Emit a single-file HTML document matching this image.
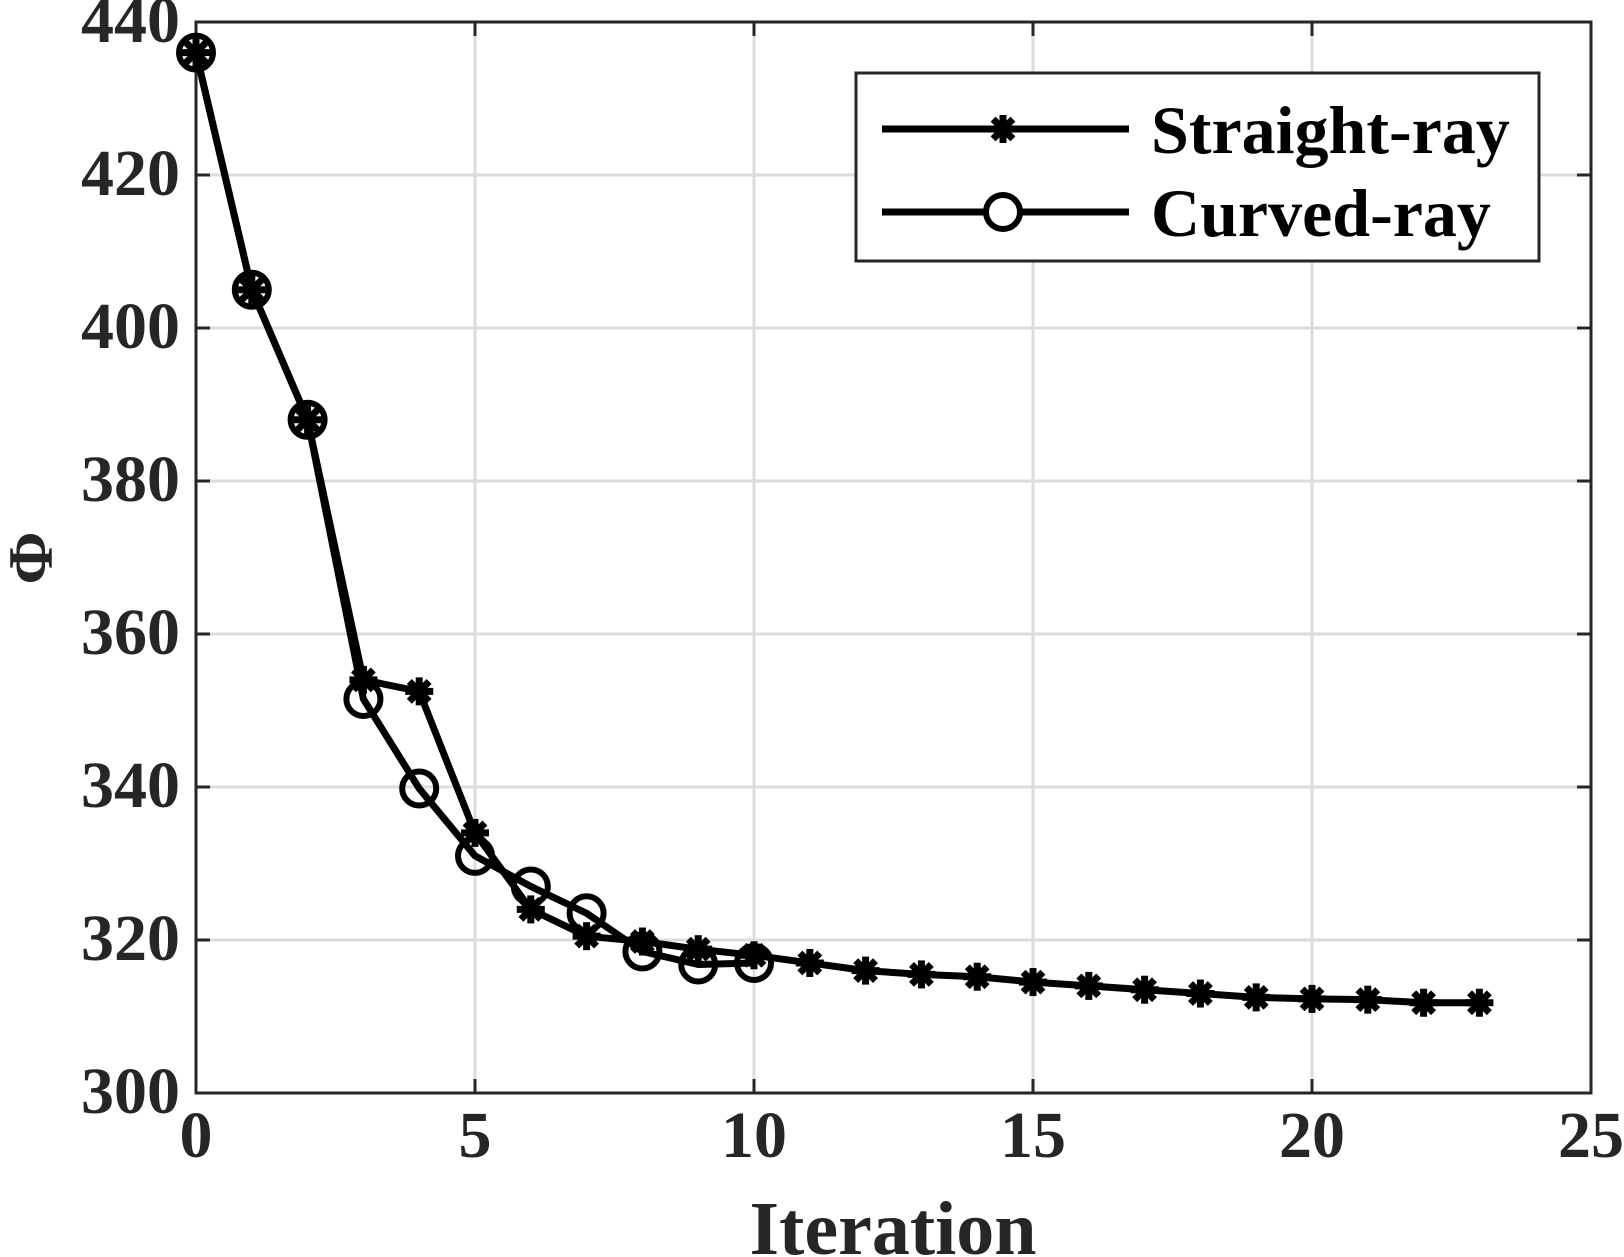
<!DOCTYPE html>
<html><head><meta charset="utf-8"><style>
html,body{margin:0;padding:0;background:#fff;}
svg{display:block;font-family:"Liberation Serif",serif;font-weight:bold;}
</style></head><body>
<svg id="chart" width="1624" height="1257" viewBox="0 0 1624 1257" xmlns="http://www.w3.org/2000/svg">
<g id="grid"></g>
<g id="axes"></g>
<g id="series"></g>
<g id="legend">
<rect x="856" y="73" width="683" height="188" fill="#fff" stroke="#262626" stroke-width="3"/>
<g>
<line x1="882" y1="129" x2="1129" y2="129" stroke="#000" stroke-width="7"/>
<g id="legStar"></g>
<text x="1151" y="153" font-size="68" fill="#000">Straight-ray</text>
</g>
<g>
<line x1="882" y1="212" x2="1129" y2="212" stroke="#000" stroke-width="7"/>
<circle cx="1003" cy="212" r="17" fill="#fff" stroke="#000" stroke-width="6"/>
<text x="1151" y="236" font-size="68" fill="#000">Curved-ray</text>
</g>
</g>
<text x="893" y="1254" font-size="76" fill="#262626" text-anchor="middle">Iteration</text>
<text transform="translate(52,558) rotate(-90)" font-size="64" fill="#262626" text-anchor="middle">Φ</text>
</svg>
<script>
const xTicks=[0,5,10,15,20,25];
const yTicks=[300,320,340,360,380,400,420,440];
const straightIter=[0,1,2,3,4,5,6,7,8,9,10,11,12,13,14,15,16,17,18,19,20,21,22,23];
const straightVals=[436,405,388,354,352.5,334,324,320.5,319.8,318.8,318,317,316,315.5,315.2,314.5,314,313.5,313,312.5,312.3,312.2,311.8,311.8];
const curvedIter=[0,1,2,3,4,5,6,7,8,9,10];
const curvedVals=[436,405,388,351.5,339.8,331,327,323.5,318.5,316.8,317];
const L=196,R=1591,T=22,B=1093;
const xs=v=>L+(v-0)/25*(R-L);
const ys=v=>B-(v-300)/140*(B-T);
const NS="http://www.w3.org/2000/svg";
function mk(tag,attrs,parent){const e=document.createElementNS(NS,tag);for(const k in attrs)e.setAttribute(k,attrs[k]);parent.appendChild(e);return e;}
const grid=document.getElementById('grid'),axes=document.getElementById('axes'),series=document.getElementById('series');
xTicks.forEach(t=>{
 if(t>0&&t<25){const g=mk('line',{x1:xs(t),x2:xs(t),y1:T,y2:B,stroke:'#dcdcdc','stroke-width':3},grid);
 
 }
 mk('line',{x1:xs(t),x2:xs(t),y1:B,y2:B-14,stroke:'#262626','stroke-width':3},axes);
 mk('line',{x1:xs(t),x2:xs(t),y1:T,y2:T+14,stroke:'#262626','stroke-width':3},axes);
 const tx=mk('text',{x:xs(t),y:B+64,'font-size':66,fill:'#262626','text-anchor':'middle'},axes);
 tx.textContent=t;
 
 
});
yTicks.forEach(t=>{
 if(t>300&&t<440){const g=mk('line',{x1:L,x2:R,y1:ys(t),y2:ys(t),stroke:'#dcdcdc','stroke-width':3},grid);
 
 }
 mk('line',{x1:L,x2:L+14,y1:ys(t),y2:ys(t),stroke:'#262626','stroke-width':3},axes);
 mk('line',{x1:R,x2:R-14,y1:ys(t),y2:ys(t),stroke:'#262626','stroke-width':3},axes);
 const tx=mk('text',{x:L-16,y:ys(t)+20,'font-size':66,fill:'#262626','text-anchor':'end'},axes);
 tx.textContent=t;
 
 
});
const frame=mk('rect',{x:L,y:T,width:R-L,height:B-T,fill:'none',stroke:'#262626','stroke-width':3},axes);


function star(cx,cy,parent){const g=mk('g',{},parent);
 for(let a=0;a<180;a+=45){const r=a*Math.PI/180,d=14;
  mk('line',{x1:cx-d*Math.cos(r),y1:cy-d*Math.sin(r),x2:cx+d*Math.cos(r),y2:cy+d*Math.sin(r),stroke:'#000','stroke-width':7},g);}
 return g;}
const cp=mk('polyline',{points:curvedIter.map((x,i)=>xs(x)+','+ys(curvedVals[i])).join(' '),fill:'none',stroke:'#000','stroke-width':7,'stroke-linejoin':'round'},series);


const sp=mk('polyline',{points:straightIter.map((x,i)=>xs(x)+','+ys(straightVals[i])).join(' '),fill:'none',stroke:'#000','stroke-width':7,'stroke-linejoin':'round'},series);


curvedIter.forEach((x,i)=>{const c=mk('circle',{cx:xs(x),cy:ys(curvedVals[i]),r:17,fill:'none',stroke:'#000','stroke-width':6},series);
 
 });
straightIter.forEach((x,i)=>{const s=star(xs(x),ys(straightVals[i]),series);
 
 });
const ls=star(1003,129,document.getElementById('legStar'));


</script>
</body></html>
